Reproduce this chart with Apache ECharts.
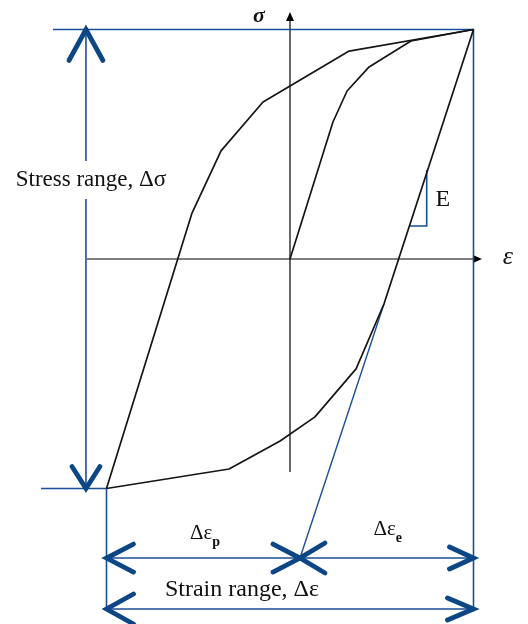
<!DOCTYPE html>
<html>
<head>
<meta charset="utf-8">
<script src="https://cdn.jsdelivr.net/npm/echarts@6/dist/echarts.min.js"></script>
<style>
  html, body { margin: 0; padding: 0; background: #fff; }
  #chart { width: 528px; height: 624px; }
</style>
</head>
<body>
<div id="chart"></div>
<script>
// Hysteresis loop, strain and stress normalised by their amplitudes
const initialLoading = [[0, 0], [0.234, 0.597], [0.311, 0.732], [0.431, 0.837], [0.659, 0.950], [1, 1]];
const unloadingBranch = [[1, 1], [0.322, 0.906], [-0.147, 0.684], [-0.376, 0.471], [-0.534, 0.200], [-1, -1]];
const reloadingBranch = [[-1, -1], [-0.332, -0.915], [-0.054, -0.793], [0.136, -0.688], [0.360, -0.479], [0.512, -0.196], [1, 1]];

// Loop extremes and the strain where the elastic line meets the dimension row
const strainMax = 1, strainMin = -1;
const stressMax = 1, stressMin = -1;
const plasticEnd = 0.0545;
const elasticStart = [0.512, -0.196];

// Modulus triangle corners on the unloading slope
const slopeLow = [0.651, 0.144];
const slopeHigh = [0.745, 0.388];

// Labels
const labelStress = 'Stress range, \u0394\u03c3';
const labelStrain = 'Strain range, \u0394\u03b5';
const labelPlastic = ['\u0394\u03b5', 'p'];
const labelElastic = ['\u0394\u03b5', 'e'];
const labelE = 'E';
const labelSigma = '\u03c3';
const labelEps = '\u03b5';

// Layout of the dimension lines (in axis units)
const rowPlastic = -1.303;
const rowTotal = -1.525;
const stressDimX = -1.112;
const textGap = [0.427, 0.261];
const axisY = [-0.928, 1.076];
const axisX = [-1.106, 1.046];

const BLUE = '#1b4f95';
const HEAD = '#0d4685';
const SERIF = '"Liberation Serif", "Times New Roman", serif';

const annotations = [
  // coordinate axes
  { kind: 'line', pts: [[0, axisY[0]], [0, axisY[1]]], color: '#000', width: 1.2, trimEnd: 8 },
  { kind: 'tri', at: [0, axisY[1]], dir: [0, -1] },
  { kind: 'line', pts: [[axisX[0], 0], [axisX[1], 0]], color: '#000', width: 1.2, trimEnd: 8 },
  { kind: 'tri', at: [axisX[1], 0], dir: [1, 0] },
  // extension lines
  { kind: 'line', pts: [[-1.292, stressMax], [strainMax, stressMax]], color: BLUE, width: 1.6 },
  { kind: 'line', pts: [[strainMax, stressMax], [strainMax, rowTotal]], color: BLUE, width: 1.6 },
  { kind: 'line', pts: [[-1.357, stressMin], [strainMin, stressMin]], color: BLUE, width: 1.6 },
  { kind: 'line', pts: [[strainMin, stressMin], [strainMin, rowTotal]], color: BLUE, width: 1.6 },
  // stress range dimension
  { kind: 'line', pts: [[stressDimX, stressMax], [stressDimX, textGap[0]]], color: BLUE, width: 1.6 },
  { kind: 'line', pts: [[stressDimX, textGap[1]], [stressDimX, stressMin]], color: BLUE, width: 1.6 },
  { kind: 'head', at: [stressDimX, stressMax], dir: [0, -1], len: 31, half: 17 },
  { kind: 'head', at: [stressDimX, stressMin], dir: [0, 1], len: 22, half: 14 },
  // strain dimensions
  { kind: 'line', pts: [[strainMin, rowPlastic], [strainMax, rowPlastic]], color: BLUE, width: 1.6 },
  { kind: 'line', pts: [[strainMin, rowTotal], [strainMax, rowTotal]], color: BLUE, width: 1.6 },
  { kind: 'line', pts: [elasticStart, [plasticEnd, rowPlastic]], color: BLUE, width: 1.4 },
  { kind: 'head', at: [strainMin, rowPlastic], dir: [-1, 0], len: 27, half: 14 },
  { kind: 'head', at: [plasticEnd, rowPlastic], dir: [1, 0], len: 27, half: 14 },
  { kind: 'head', at: [plasticEnd, rowPlastic], dir: [-1, 0], len: 25, half: 15 },
  { kind: 'head', at: [strainMax, rowPlastic], dir: [1, 0], len: 24, half: 11 },
  { kind: 'head', at: [strainMin, rowTotal], dir: [-1, 0], len: 27, half: 15 },
  { kind: 'head', at: [strainMax, rowTotal], dir: [1, 0], len: 26, half: 11 },
  // modulus triangle
  { kind: 'line', pts: [slopeLow, [slopeHigh[0], slopeLow[1]], slopeHigh], color: BLUE, width: 1.6 },
  // texts
  { kind: 'text', at: [stressDimX, 0.344], dx: 5, dy: 0, text: labelStress, size: 23 },
  { kind: 'text', at: [slopeHigh[0], 0.257], dx: 16, dy: 0, text: labelE, size: 24 },
  { kind: 'text', at: [0, axisY[1]], dx: -31, dy: 4, text: labelSigma, size: 22, style: 'italic', weight: 'bold' },
  { kind: 'text', at: [axisX[1], 0], dx: 26, dy: -2, text: labelEps, size: 26, style: 'italic' },
  { kind: 'text', at: [0, rowTotal], dx: -48, dy: -19, text: labelStrain, size: 24 },
  { kind: 'sub', at: [(strainMin + plasticEnd) / 2, rowPlastic], dx: 9, dy: -25, text: labelPlastic },
  { kind: 'sub', at: [(plasticEnd + strainMax) / 2, rowPlastic], dx: 9, dy: -29, text: labelElastic }
];

function renderAnnotation(params, api) {
  const a = annotations[params.dataIndex];
  if (a.kind === 'line') {
    const pts = a.pts.map(p => api.coord(p));
    if (a.trimEnd) {
      const n = pts.length - 1;
      const dx = pts[n][0] - pts[n - 1][0], dy = pts[n][1] - pts[n - 1][1];
      const d = Math.hypot(dx, dy);
      pts[n] = [pts[n][0] - dx / d * a.trimEnd, pts[n][1] - dy / d * a.trimEnd];
    }
    return { type: 'polyline', shape: { points: pts }, style: { stroke: a.color, lineWidth: a.width, fill: null } };
  }
  if (a.kind === 'head' || a.kind === 'tri') {
    const tip = api.coord(a.at);
    const [dx, dy] = a.dir;
    const len = a.kind === 'tri' ? 9 : a.len;
    const half = a.kind === 'tri' ? 4 : a.half;
    const px = -dy, py = dx;
    const pts = [
      [tip[0] - dx * len + px * half, tip[1] - dy * len + py * half],
      tip,
      [tip[0] - dx * len - px * half, tip[1] - dy * len - py * half]
    ];
    if (a.kind === 'tri') {
      return { type: 'polygon', shape: { points: pts }, style: { fill: '#000' } };
    }
    return { type: 'polyline', shape: { points: pts },
      style: { stroke: HEAD, lineWidth: 4.8, fill: null, lineCap: 'round', lineJoin: 'miter' } };
  }
  if (a.kind === 'text') {
    const p = api.coord(a.at);
    return { type: 'text', x: p[0] + a.dx, y: p[1] + a.dy,
      style: { text: a.text, fontFamily: SERIF, fontSize: a.size, fontStyle: a.style || 'normal',
        fontWeight: a.weight || 'normal', fill: '#111', align: 'center', verticalAlign: 'middle' } };
  }
  if (a.kind === 'sub') {
    const p = api.coord(a.at);
    const x = p[0] + a.dx, y = p[1] + a.dy;
    return { type: 'group', children: [
      { type: 'text', x: x, y: y, style: { text: a.text[0], fontFamily: SERIF, fontSize: 21, fill: '#111',
        align: 'right', verticalAlign: 'middle' } },
      { type: 'text', x: x, y: y + 9, style: { text: a.text[1], fontFamily: SERIF, fontSize: 14, fontWeight: 'bold',
        fill: '#111', align: 'left', verticalAlign: 'middle' } }
    ] };
  }
  return null;
}

const chart = echarts.init(document.getElementById('chart'), null, { renderer: 'canvas' });
const curveStyle = { color: '#151515', width: 1.7 };
chart.setOption({
  animation: false,
  backgroundColor: '#fff',
  grid: { left: 14.75, top: 6.5475, width: 504.625, height: 608.175 },
  xAxis: { type: 'value', min: -1.5, max: 1.25, show: false },
  yAxis: { type: 'value', min: -1.55, max: 1.1, show: false },
  series: [
    { type: 'custom', name: 'annotations', renderItem: renderAnnotation, clip: false, silent: true,
      data: annotations.map((a, i) => [i]), z: 1 },
    { type: 'line', name: 'initial loading', data: initialLoading, symbol: 'none', lineStyle: curveStyle, z: 3 },
    { type: 'line', name: 'unloading', data: unloadingBranch, symbol: 'none', lineStyle: curveStyle, z: 3 },
    { type: 'line', name: 'reloading', data: reloadingBranch, symbol: 'none', lineStyle: curveStyle, z: 3 }
  ]
});
</script>
</body>
</html>
